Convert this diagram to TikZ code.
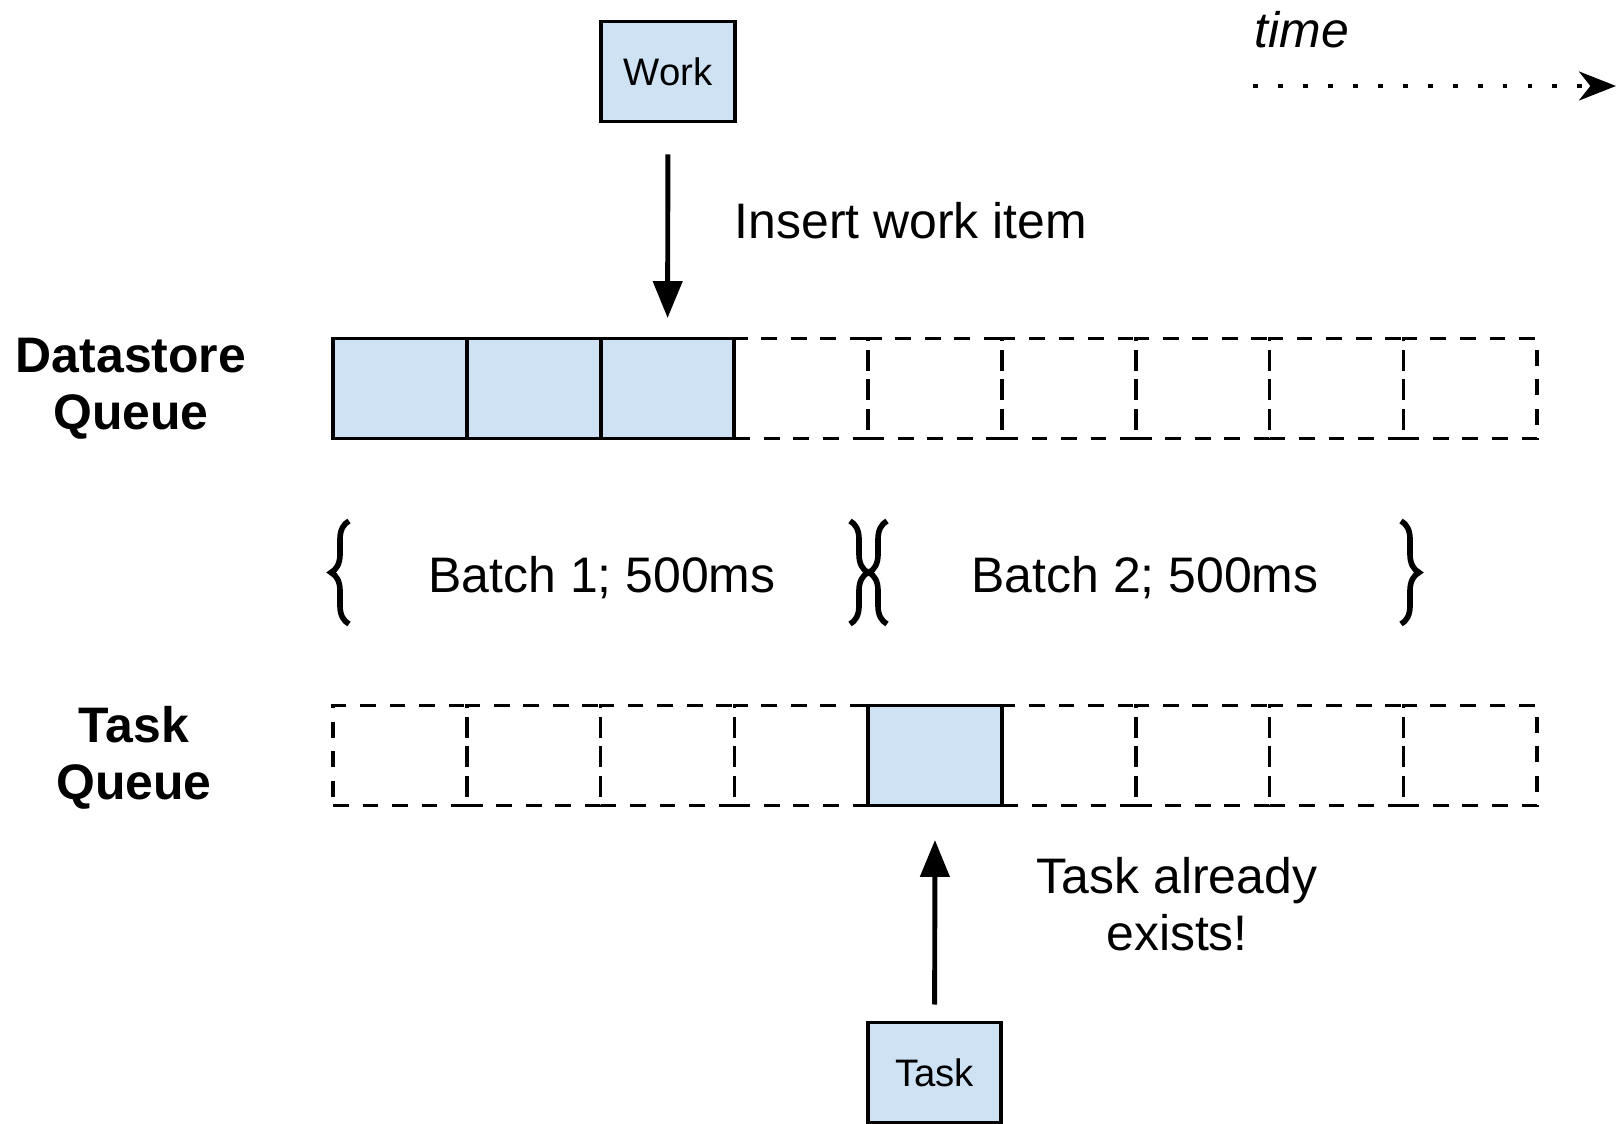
\documentclass[tikz,border=0pt]{standalone}
\usepackage{fontspec}
\setmainfont{Liberation Sans}
\usetikzlibrary{arrows.meta,decorations.pathreplacing}
\definecolor{cellblue}{RGB}{207,226,243}

\begin{document}
\begin{tikzpicture}[font=\fontsize{14.2pt}{16.3pt}\selectfont,
  slot/.style={draw,line width=1pt,dash pattern=on 4.5pt off 3.9pt,minimum width=1.338cm,minimum height=1cm,inner sep=0pt,outer sep=0pt},
  fullslot/.style={draw,line width=1.1pt,fill=cellblue,minimum width=1.338cm,minimum height=1cm,inner sep=0pt,outer sep=0pt},
  itembox/.style={fullslot,font=\fontsize{10.9pt}{13pt}\selectfont},
  flow/.style={-{Triangle[length=10.5pt,width=8.2pt]},line width=1.4pt},
  batch/.style={decorate,decoration={brace,amplitude=0.18cm},line width=1.6pt}]
\useasboundingbox (0,0) rectangle (16.17,11.23);
% row labels
\node[font=\fontsize{14.2pt}{16.3pt}\selectfont\bfseries,align=center] (dslabel) at (1.31,7.34) {Datastore\\Queue};
\node[font=\fontsize{14.2pt}{16.3pt}\selectfont\bfseries,align=center] (tqlabel) at (1.34,3.65) {Task\\Queue};
% datastore queue
\node[fullslot] (ds0) at (3.999,7.345) {};
\node[fullslot] (ds1) at (5.337,7.345) {};
\node[fullslot] (ds2) at (6.675,7.345) {};
\foreach \i in {3,...,8}
  \node[slot] (ds\i) at ({3.999+1.338*\i},7.345) {};
% task queue
\foreach \i in {0,1,2,3,5,6,7,8}
  \node[slot] (tq\i) at ({3.999+1.338*\i},3.675) {};
\node[fullslot] (tq4) at (9.351,3.675) {};
% work and task
\node[itembox] (work) at (6.68,10.515) {Work};
\node[itembox] (task) at (9.345,0.505) {Task};
\draw[flow,shorten <=0.33cm,shorten >=0.205cm] (work) -- (ds2);
\draw[flow,shorten <=0.18cm,shorten >=0.345cm] (task) -- (tq4);
\node[anchor=base] (insert) at (9.11,8.84) {Insert work item};
\node[align=center] (exists) at (11.77,2.19) {Task already\\exists!};
% batches
\draw[batch] (3.49,4.99) -- (3.49,6.02);
\draw[batch] (8.50,6.02) -- (8.50,4.99);
\draw[batch] (8.87,4.99) -- (8.87,6.02);
\draw[batch] (14.01,6.02) -- (14.01,4.99);
\node[anchor=base] (batch1) at (6.02,5.30) {Batch 1; 500ms};
\node[anchor=base] (batch2) at (11.45,5.30) {Batch 2; 500ms};
% time axis
\node[anchor=base,font=\fontsize{14.2pt}{16.3pt}\selectfont\itshape] (time) at (13.02,10.75) {time};
\coordinate (t0) at (12.53,10.37);
\coordinate (t1) at (16.16,10.37);
\draw[line width=1.4pt,dash pattern=on 1.4pt off 5.7pt,-{Stealth[length=10.5pt,width=8.2pt,inset=3.2pt]}] (t0) -- (t1);
\end{tikzpicture}
\end{document}
